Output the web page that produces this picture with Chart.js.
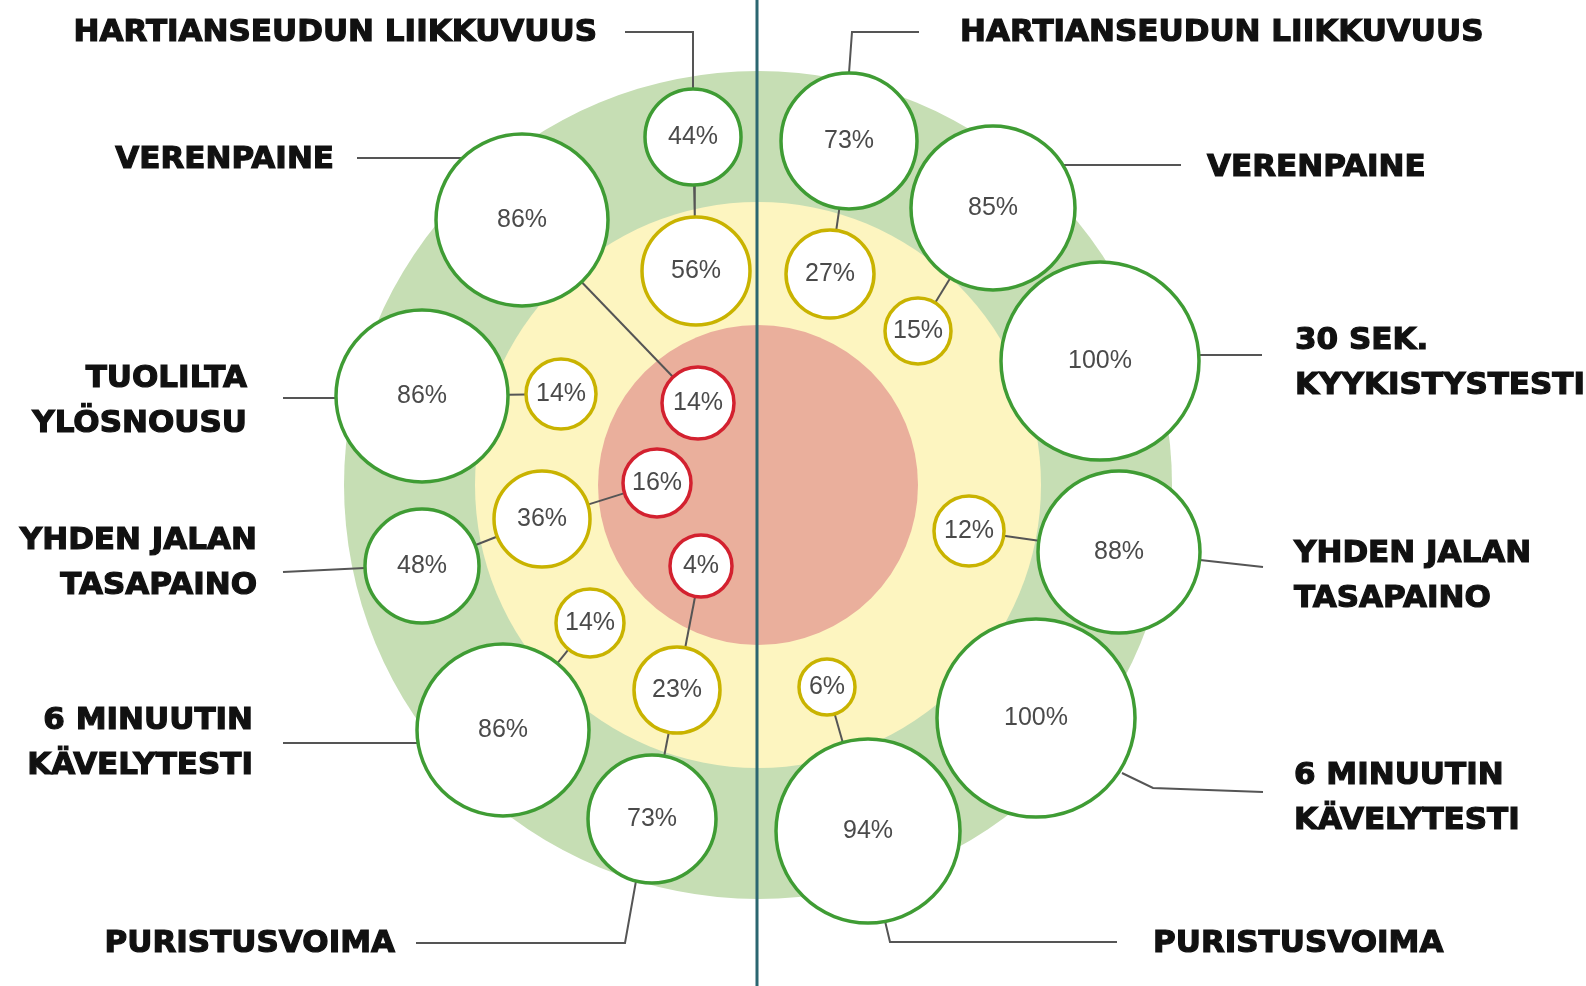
<!DOCTYPE html>
<html>
<head>
<meta charset="utf-8">
<script src="https://cdn.jsdelivr.net/npm/chart.js@4.4.1/dist/chart.umd.min.js"></script>
<style>
    html, body { margin: 0; padding: 0; background: #fff; }
    #wrap { width: 1586px; height: 986px; }
</style>
</head>
<body>
<div id="wrap"><canvas id="myChart" width="1586" height="986"></canvas></div>
<script>
// test names, same list on both halves
var tests = ['HARTIANSEUDUN LIIKKUVUUS', 'VERENPAINE', 'TUOLILTA\nYLÖSNOUSU', '30 SEK.\nKYYKISTYSTESTI',
             'YHDEN JALAN\nTASAPAINO', '6 MINUUTIN\nKÄVELYTESTI', 'PURISTUSVOIMA'];

// share in each zone, %  (null = no bubble)
var leftGreen   = [44, 86, 86, null, 48, 86, 73];
var leftYellow  = [56, null, 14, null, 36, 14, 23];
var leftRed     = [null, 14, null, null, 16, null, 4];
var rightGreen  = [73, 85, null, 100, 88, 100, 94];
var rightYellow = [27, 15, null, null, 12, null, 6];
var rightRed    = [null, null, null, null, null, null, null];

// ---- layout (picture units) ----
var centerX = 758, centerY = 485;
var ringRadius = [414, 283, 160];

// bubble placement [x, y, radius]
var leftGreenAt   = [[693,137,48], [522,220,86], [422,396,86], null, [422,566,57], [503,730,86], [652,819,64]];
var leftYellowAt  = [[696,271,54], null, [561,394,35], null, [542,519,48], [590,623,34], [677,690,43]];
var leftRedAt     = [null, [698,403,36], null, null, [657,483,34], null, [701,566,31]];
var rightGreenAt  = [[849,141,68], [993,208,82], null, [1100,361,99], [1119,552,81], [1036,718,99], [868,831,92]];
var rightYellowAt = [[830,274,44], [918,331,33], null, null, [969,531,35], null, [827,687,28]];
var rightRedAt    = [null, null, null, null, null, null, null];

// name anchors [x, y of first line]; left side is right-aligned
var leftNameAt  = [[597,33], [334,160], [247,379], null, [257,541], [253,721], [395,944]];
var rightNameAt = [[960,33], [1207,168], null, [1295,341], [1294,554], [1294,776], [1153,944]];

// leader lines from bubble to name
var leftLeaders  = [[[693,89],[693,32],[625,32]], [[463,158],[357,158]], [[336,398],[283,398]], null,
                    [[365,568],[283,572]], [[417,743],[283,743]], [[636,881],[625,943],[416,943]]];
var rightLeaders = [[[849,73],[852,32],[919,32]], [[1062,165],[1181,165]], null, [[1199,355],[1262,355]],
                    [[1200,560],[1263,567]], [[1122,773],[1153,788],[1263,792]], [[885,921],[890,942],[1117,942]]];

var zoneFill = ['#c6deb4', '#fdf5c0', '#eaaf9c'];
var zoneStroke = ['#3f9c34', '#c9b300', '#d3212f'];

function bubbles(values, places) {
    var out = [];
    values.forEach(function (v, i) {
        if (v === null) return;
        var p = places[i];
        out.push({x: p[0], y: p[1], r: p[2], v: v, t: i});
    });
    return out;
}

var sides = [
    {vals: [leftGreen, leftYellow, leftRed], at: [leftGreenAt, leftYellowAt, leftRedAt]},
    {vals: [rightGreen, rightYellow, rightRed], at: [rightGreenAt, rightYellowAt, rightRedAt]}
];

var datasets = [];

// background zones
datasets.push({
    type: 'bubble',
    data: ringRadius.map(function (r) { return {x: centerX, y: centerY, r: r}; }),
    backgroundColor: zoneFill,
    borderWidth: 0,
    clip: false,
    order: 10
});

// divider
datasets.push({
    type: 'line',
    data: [{x: 757, y: 0}, {x: 757, y: 986}],
    borderColor: '#2b6671',
    borderWidth: 3,
    pointRadius: 0,
    clip: false,
    order: 9
});

function addLine(points) {
    datasets.push({
        type: 'line',
        data: points.map(function (p) { return {x: p[0], y: p[1]}; }),
        borderColor: '#555',
        borderWidth: 2,
        pointRadius: 0,
        tension: 0,
        clip: false,
        order: 8
    });
}

leftLeaders.concat(rightLeaders).forEach(function (l) { if (l) addLine(l); });

// connectors green -> yellow -> red inside one test
sides.forEach(function (s) {
    tests.forEach(function (t, i) {
        var chain = [];
        for (var z = 0; z < 3; z++) {
            if (s.vals[z][i] !== null) chain.push(s.at[z][i]);
        }
        for (var k = 0; k + 1 < chain.length; k++) {
            var a = chain[k], b = chain[k + 1];
            var dx = b[0] - a[0], dy = b[1] - a[1];
            var len = Math.sqrt(dx * dx + dy * dy);
            var ux = dx / len, uy = dy / len;
            addLine([[a[0] + ux * a[2], a[1] + uy * a[2]], [b[0] - ux * b[2], b[1] - uy * b[2]]]);
        }
    });
});

// result bubbles, one dataset per zone
for (var z = 0; z < 3; z++) {
    datasets.push({
        type: 'bubble',
        isZone: true,
        data: bubbles(sides[0].vals[z], sides[0].at[z]).concat(bubbles(sides[1].vals[z], sides[1].at[z])),
        backgroundColor: '#fff',
        borderColor: zoneStroke[z],
        borderWidth: 3.5,
        clip: false,
        order: 1
    });
}

var textPlugin = {
    id: 'texts',
    afterDatasetsDraw: function (chart) {
        var ctx = chart.ctx;
        ctx.save();

        // percentages
        ctx.fillStyle = '#4a4a4a';
        ctx.font = '25px "Liberation Sans", Arial, sans-serif';
        ctx.textAlign = 'center';
        ctx.textBaseline = 'middle';
        chart.data.datasets.forEach(function (ds, di) {
            if (!ds.isZone) return;
            chart.getDatasetMeta(di).data.forEach(function (el, i) {
                ctx.fillText(ds.data[i].v + '%', el.x, el.y);
            });
        });

        // test names
        ctx.fillStyle = '#111';
        ctx.strokeStyle = '#111';
        ctx.lineWidth = 1.2;
        ctx.font = 'bold 31px "DejaVu Sans", sans-serif';
        [[leftNameAt, 'right'], [rightNameAt, 'left']].forEach(function (side) {
            ctx.textAlign = side[1];
            tests.forEach(function (t, i) {
                var p = side[0][i];
                if (!p) return;
                t.split('\n').forEach(function (line, k) {
                    ctx.fillText(line, p[0], p[1] + k * 45);
                    ctx.strokeText(line, p[0], p[1] + k * 45);
                });
            });
        });
        ctx.restore();
    }
};

var myChart = new Chart(document.getElementById('myChart'), {
    type: 'bubble',
    data: {datasets: datasets},
    options: {
        responsive: false,
        animation: false,
        events: [],
        layout: {padding: 0, autoPadding: false},
        plugins: {legend: {display: false}, tooltip: {enabled: false}},
        scales: {
            x: {type: 'linear', min: 0, max: 1586, display: false},
            y: {type: 'linear', min: 0, max: 986, reverse: true, display: false}
        }
    },
    plugins: [textPlugin]
});
</script>
</body>
</html>
